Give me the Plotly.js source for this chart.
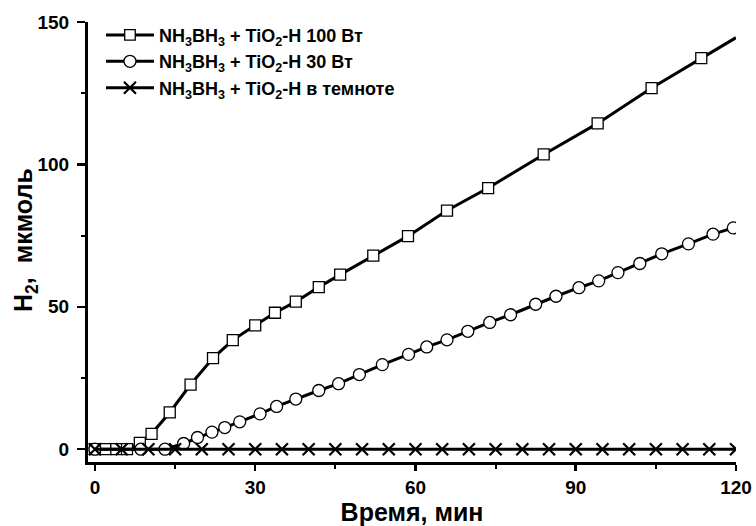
<!DOCTYPE html>
<html>
<head>
<meta charset="utf-8">
<script src="https://cdn.plot.ly/plotly-3.0.1.min.js"></script>
<style>html,body{margin:0;padding:0;background:#fff;}#chart{width:756px;height:526px;}</style>
</head>
<body>
<div id="chart"></div>
<script>
// Series 1: NH3BH3 + TiO2-H 100 W (squares)
const sqX = [0, 2, 4, 6, 8.4, 10.6, 14.0, 17.9, 22.1, 25.8, 30.0, 33.7, 37.6, 41.9, 45.9, 52.1, 58.6, 65.9, 73.6, 84.0, 94.1, 104.2, 113.5, 120];
const sqY = [0, 0, 0, 0, 2.2, 5.4, 12.9, 22.7, 32.0, 38.3, 43.5, 47.9, 51.8, 56.9, 61.3, 68.0, 74.8, 83.8, 91.7, 103.5, 114.4, 126.8, 137.3, 144.5];
// Series 2: NH3BH3 + TiO2-H 30 W (circles)
const ciX = [0, 8.6, 13.1, 16.6, 19.2, 21.9, 24.3, 27.1, 30.9, 34.0, 37.6, 41.9, 45.6, 49.5, 53.8, 58.7, 62.1, 65.9, 69.8, 73.9, 77.8, 82.5, 86.3, 90.6, 94.3, 97.9, 102.0, 106.1, 111.1, 115.7, 119.5];
const ciY = [0, 0, 0, 2.0, 4.1, 6.0, 7.6, 9.6, 12.4, 15.0, 17.6, 20.6, 23.0, 26.2, 29.7, 33.3, 35.9, 38.4, 41.4, 44.5, 47.2, 50.9, 53.7, 56.7, 59.1, 62.0, 65.2, 68.6, 72.1, 75.5, 77.7];
// Series 3: NH3BH3 + TiO2-H in the dark (crosses)
const crX = [0, 5, 10, 15, 20, 25, 30, 35, 40, 45, 50, 55, 60, 65, 70, 75, 80, 85, 90, 95, 100, 105, 110, 115, 120];
const crY = [0, 0, 0, 0, 0, 0, 0, 0, 0, 0, 0, 0, 0, 0, 0, 0, 0, 0, 0, 0, 0, 0, 0, 0, 0];

const names = [
  'NH<sub>3</sub>BH<sub>3</sub> + TiO<sub>2</sub>-H 100 Вт',
  'NH<sub>3</sub>BH<sub>3</sub> + TiO<sub>2</sub>-H 30 Вт',
  'NH<sub>3</sub>BH<sub>3</sub> + TiO<sub>2</sub>-H в темноте'
];
const xTicks = [0, 30, 60, 90, 120];
const yTicks = [0, 50, 100, 150];
const xTitle = 'Время, мин';
const yTitle = 'H<sub>2</sub>,\u00a0\u00a0мкмоль';

const FONT = 'Arial, "Liberation Sans", sans-serif';
const sqSizes = sqX.map((v, i) => i === sqX.length - 1 ? 0 : 11);

const traces = [
  {x: sqX, y: sqY, name: names[0], mode: 'lines+markers', type: 'scatter',
   line: {color: '#000', width: 3},
   marker: {symbol: 'square', size: sqSizes, color: '#ffffff', opacity: 1, line: {color: '#000', width: 1.3}}},
  {x: ciX, y: ciY, name: names[1], mode: 'lines+markers', type: 'scatter',
   line: {color: '#000', width: 3},
   marker: {symbol: 'circle', size: 12, color: '#ffffff', opacity: 1, line: {color: '#000', width: 1.3}}},
  {x: crX, y: crY, name: names[2], mode: 'lines+markers', type: 'scatter',
   line: {color: '#000', width: 3},
   marker: {symbol: 'x-thin', size: 12, color: '#000', opacity: 1, line: {color: '#000', width: 2.2}}}
];

const layout = {
  width: 756, height: 526,
  margin: {l: 88, r: 20, t: 22, b: 64, autoexpand: false},
  paper_bgcolor: '#fff', plot_bgcolor: '#fff',
  font: {family: FONT, color: '#000'},
  showlegend: true,
  legend: {x: 0.02, y: 1.012, xanchor: 'left', yanchor: 'top',
           bgcolor: 'rgba(0,0,0,0)', font: {family: FONT, size: 18, weight: 'bold', color: '#000'},
           tracegroupgap: 0, itemwidth: 48},
  xaxis: {range: [-1.3, 120], tickvals: xTicks, ticktext: xTicks.map(String),
          showgrid: false, zeroline: false, showline: true, linecolor: '#000', linewidth: 3,
          ticks: 'outside', ticklen: 6, tickwidth: 2.5, tickcolor: '#000',
          minor: {tickvals: [15, 45, 75, 105], ticks: 'outside', ticklen: 4, tickwidth: 2, tickcolor: '#000', showgrid: false},
          tickfont: {family: FONT, size: 19, weight: 'bold', color: '#000'},
          title: {text: xTitle, font: {family: FONT, size: 25, weight: 'bold', color: '#000'}, standoff: 2}},
  yaxis: {range: [-4.5, 150], tickvals: yTicks, ticktext: yTicks.map(String),
          showgrid: false, zeroline: false, showline: true, linecolor: '#000', linewidth: 3,
          ticks: 'outside', ticklen: 8, tickwidth: 2.5, tickcolor: '#000', ticklabelstandoff: 4,
          minor: {tickvals: [25, 75, 125], ticks: 'outside', ticklen: 4, tickwidth: 2, tickcolor: '#000', showgrid: false},
          tickfont: {family: FONT, size: 19, weight: 'bold', color: '#000'}},
  annotations: [
    {text: yTitle, xref: 'paper', yref: 'paper', x: -0.097, y: 0.505, xanchor: 'center', yanchor: 'middle',
     textangle: -90, showarrow: false, font: {family: FONT, size: 25, weight: 'bold', color: '#000'}}
  ]
};

Plotly.newPlot('chart', traces, layout, {displayModeBar: false, staticPlot: true});
</script>
</body>
</html>
